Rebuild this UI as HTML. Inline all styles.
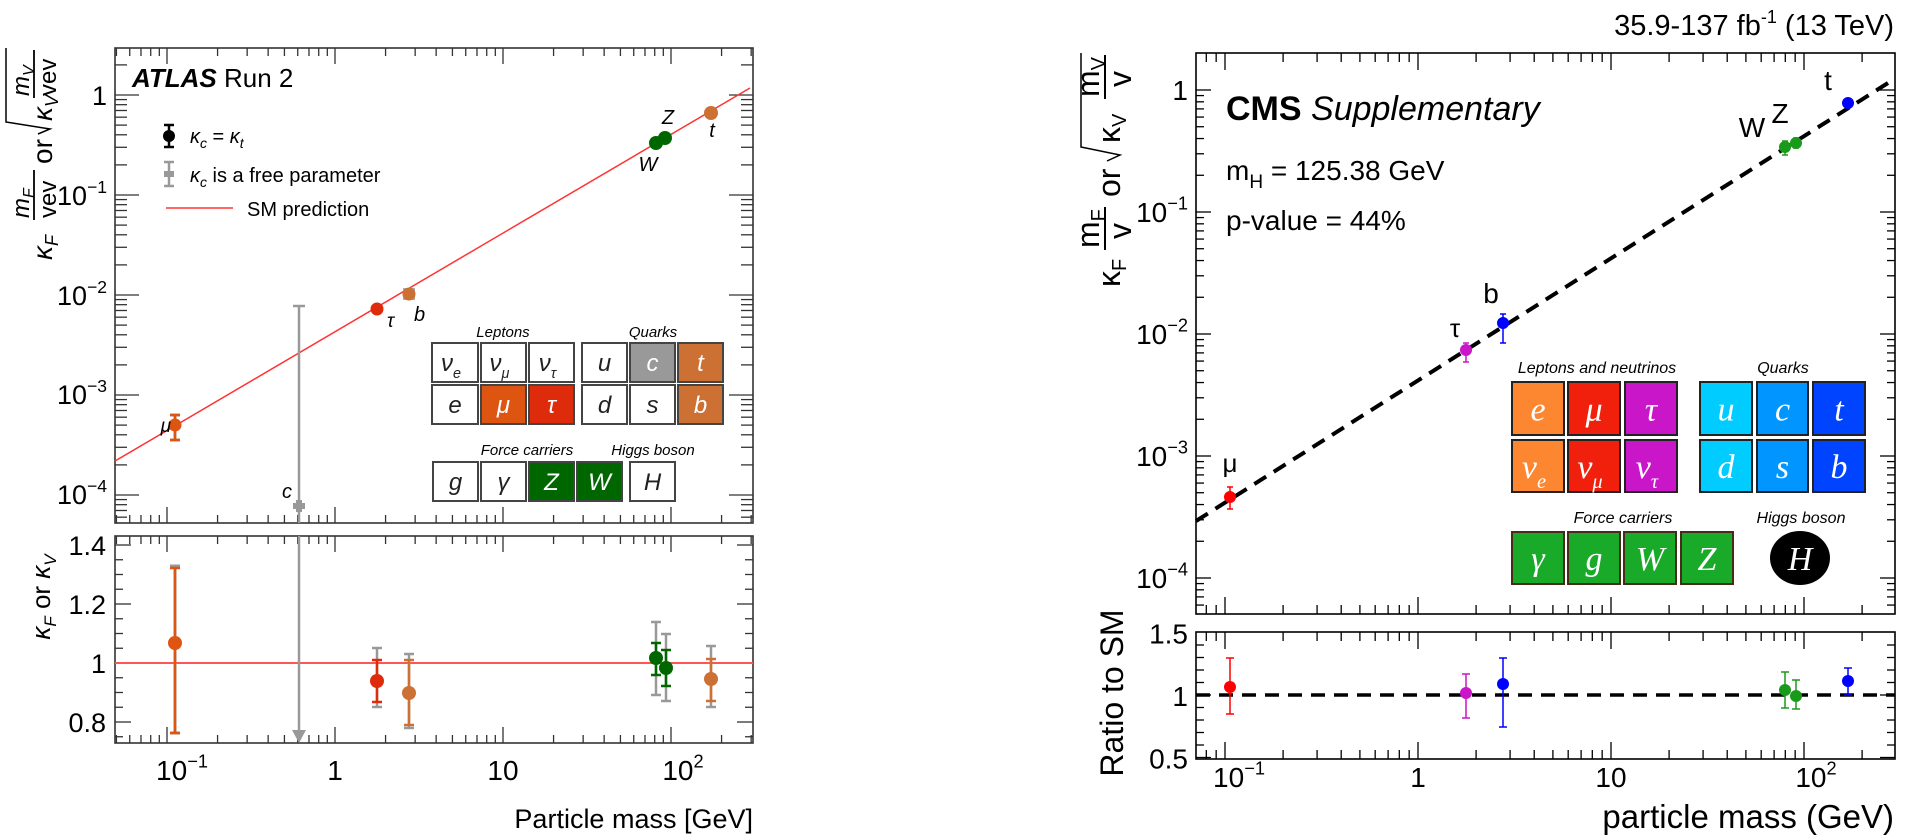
<!DOCTYPE html>
<html><head><meta charset="utf-8"><style>
html,body{margin:0;padding:0;background:#fff;}
svg{display:block;font-family:"Liberation Sans",sans-serif;}
</style></head><body>
<svg id="s" width="1905" height="840" viewBox="0 0 1905 840" xmlns="http://www.w3.org/2000/svg">
<rect width="1905" height="840" fill="#fff"/>
<g id="g"></g>

<text x="132" y="87" font-size="26"><tspan font-weight="bold" font-style="italic">ATLAS</tspan> Run 2</text>
<g>
<line x1="169" y1="125" x2="169" y2="147" stroke="#000" stroke-width="2.5"/><line x1="164" y1="125" x2="174" y2="125" stroke="#000" stroke-width="2.5"/><line x1="164" y1="147" x2="174" y2="147" stroke="#000" stroke-width="2.5"/><circle cx="169" cy="136" r="6" fill="#000"/>
<text x="190" y="143" font-size="20"><tspan font-style="italic">κ</tspan><tspan font-size="14" dy="5" font-style="italic">c</tspan><tspan dy="-5"> = </tspan><tspan font-style="italic">κ</tspan><tspan font-size="14" dy="5" font-style="italic">t</tspan></text>
<line x1="169" y1="162" x2="169" y2="186" stroke="#999" stroke-width="2.5"/><line x1="164" y1="162" x2="174" y2="162" stroke="#999" stroke-width="2.5"/><line x1="164" y1="186" x2="174" y2="186" stroke="#999" stroke-width="2.5"/><rect x="164" y="171" width="10" height="6" fill="#999"/>
<text x="190" y="182" font-size="20"><tspan font-style="italic">κ</tspan><tspan font-size="14" dy="5" font-style="italic">c</tspan><tspan dy="-5"> is a free parameter</tspan></text>
<line x1="166" y1="208" x2="233" y2="208" stroke="#f33" stroke-width="1.5"/>
<text x="247" y="216" font-size="20">SM prediction</text>
</g>
<text x="171" y="432" font-size="19" font-style="italic" text-anchor="end">μ</text>
<text x="387" y="327" font-size="19" font-style="italic">τ</text>
<text x="414" y="321" font-size="20" font-style="italic">b</text>
<text x="287" y="498" font-size="20" font-style="italic" text-anchor="middle">c</text>
<text x="668" y="124" font-size="20" font-style="italic" text-anchor="middle">Z</text>
<text x="648" y="171" font-size="20" font-style="italic" text-anchor="middle">W</text>
<text x="712" y="137" font-size="20" font-style="italic" text-anchor="middle">t</text>

<text x="503" y="337" font-size="15" font-style="italic" text-anchor="middle">Leptons</text>
<text x="653" y="337" font-size="15" font-style="italic" text-anchor="middle">Quarks</text>
<text x="527" y="455" font-size="15" font-style="italic" text-anchor="middle">Force carriers</text>
<text x="653" y="455" font-size="15" font-style="italic" text-anchor="middle">Higgs boson</text>

<g transform="translate(0,260) rotate(-90)" font-size="28">
<text x="0" y="52" font-style="italic">κ<tspan font-size="18" dy="6">F</tspan></text>
<text x="42" y="29" font-style="italic" font-size="24">m<tspan font-size="16" dy="5">F</tspan></text>
<line x1="40" y1="34" x2="90" y2="34" stroke="#000" stroke-width="1.8"/>
<text x="42" y="56" font-size="24">vev</text>
<text x="96" y="52">or</text>
<path d="M126,38 L131,50 L138,6 L212,6" fill="none" stroke="#000" stroke-width="1.5"/>
<text x="139" y="52" font-style="italic">κ<tspan font-size="18" dy="6">V</tspan></text>
<text x="164" y="29" font-style="italic" font-size="24">m<tspan font-size="16" dy="5">V</tspan></text>
<line x1="162" y1="34" x2="210" y2="34" stroke="#000" stroke-width="1.8"/>
<text x="164" y="56" font-size="24">vev</text>
</g>
<text transform="translate(50,597) rotate(-90)" font-size="26" text-anchor="middle"><tspan font-style="italic">κ</tspan><tspan font-size="17" dy="6" font-style="italic">F</tspan><tspan dy="-6"> or </tspan><tspan font-style="italic">κ</tspan><tspan font-size="17" dy="6" font-style="italic">V</tspan></text>
<text x="753" y="828" font-size="27" text-anchor="end">Particle mass [GeV]</text>

<text x="1894" y="35" font-size="29" text-anchor="end">35.9-137 fb<tspan font-size="18" dy="-12">-1</tspan><tspan dy="12"> (13 TeV)</tspan></text>
<text x="1226" y="120" font-size="34"><tspan font-weight="bold">CMS</tspan> <tspan font-style="italic">Supplementary</tspan></text>
<text x="1226" y="180" font-size="28">m<tspan font-size="19" dy="8">H</tspan><tspan dy="-8"> = 125.38 GeV</tspan></text>
<text x="1226" y="230" font-size="28">p-value = 44%</text>
<text x="1230" y="472" font-size="26" text-anchor="middle">μ</text>
<text x="1455" y="337" font-size="26" text-anchor="middle">τ</text>
<text x="1491" y="303" font-size="28" text-anchor="middle">b</text>
<text x="1752" y="137" font-size="28" text-anchor="middle">W</text>
<text x="1780" y="123" font-size="28" text-anchor="middle">Z</text>
<text x="1828" y="90" font-size="28" text-anchor="middle">t</text>
<text x="1597" y="373" font-size="16" font-style="italic" text-anchor="middle">Leptons and neutrinos</text>
<text x="1783" y="373" font-size="16" font-style="italic" text-anchor="middle">Quarks</text>
<text x="1623" y="523" font-size="16" font-style="italic" text-anchor="middle">Force carriers</text>
<text x="1801" y="523" font-size="16" font-style="italic" text-anchor="middle">Higgs boson</text>
<ellipse cx="1800" cy="558" rx="30" ry="27" fill="#000"/>
<text x="1800" y="570" font-size="34" font-family="Liberation Serif,serif" font-style="italic" fill="#fff" text-anchor="middle">H</text>

<g transform="translate(1103,283) rotate(-90)" font-size="32">
<text x="-4" y="17">κ<tspan font-size="20" dy="6">F</tspan></text>
<text x="35" y="-4">m<tspan font-size="20" dy="6">F</tspan></text>
<line x1="33" y1="2" x2="76" y2="2" stroke="#000" stroke-width="2"/>
<text x="44" y="28">v</text>
<text x="86" y="17">or</text>
<path d="M122,4 L128,17 L136,-22 L230,-22" fill="none" stroke="#000" stroke-width="1.5"/>
<text x="140" y="17">κ<tspan font-size="20" dy="6">V</tspan></text>
<text x="186" y="-4">m<tspan font-size="20" dy="6">V</tspan></text>
<line x1="184" y1="2" x2="228" y2="2" stroke="#000" stroke-width="2"/>
<text x="196" y="28">v</text>
</g>
<text transform="translate(1123,693) rotate(-90)" font-size="32" text-anchor="middle">Ratio to SM</text>
<text x="1894" y="828" font-size="33" text-anchor="end">particle mass (GeV)</text>
</svg>
<script>
(function(){
var NS="http://www.w3.org/2000/svg",g=document.getElementById("g");
function el(t,a,txt){var e=document.createElementNS(NS,t);for(var k in a)e.setAttribute(k,a[k]);if(txt!==undefined)e.textContent=txt;g.appendChild(e);return e;}
function L(x1,y1,x2,y2,c,w,extra){var a={x1:x1,y1:y1,x2:x2,y2:y2,stroke:c,"stroke-width":w};for(var k in extra||{})a[k]=extra[k];return el("line",a);}
function lg(v){return Math.log(v)/Math.LN10;}
var LX=function(m){return 335+168*lg(m);},LY=function(v){return 95-100*lg(v);},LR=function(v){return 663-(v-1)*295;};
var RX=function(m){return 1418+193*lg(m);},RY=function(v){return 90-122*lg(v);},RR=function(r){return 695-(r-1)*125;};
function xTicks(F,x0,x1,yt,yb,maj,min,c){for(var d=-2;d<=3;d++)for(var k=1;k<10;k++){var m=k*Math.pow(10,d),x=F(m);if(x<=x0+1||x>=x1-1)continue;var l=k==1?maj:min;L(x,yb,x,yb-l,c,1.3);L(x,yt,x,yt+l,c,1.3);}}
function yLogTicks(F,y0,y1,xl,xr,maj,min,c){for(var d=-5;d<=1;d++)for(var k=1;k<10;k++){var v=k*Math.pow(10,d),y=F(v);if(y<=y0+1||y>=y1-1)continue;var l=k==1?maj:min;L(xl,y,xl+l,y,c,1.3);L(xr,y,xr-l,y,c,1.3);}}
function yLinTicks(F,y0,y1,xl,xr,a,b,st,majEvery,maj,min,c){for(var i=0;a+i*st<=b+1e-9;i++){var v=a+i*st,y=F(v);if(y<=y0+1||y>=y1-1)continue;var isM=Math.abs(v/majEvery-Math.round(v/majEvery))<1e-6;var l=isM?maj:min;L(xl,y,xl+l,y,c,1.3);L(xr,y,xr-l,y,c,1.3);}}
var lc="#333";
el("rect",{x:115,y:48,width:638,height:475,fill:"none",stroke:lc,"stroke-width":1.6});
el("rect",{x:115,y:536,width:638,height:207,fill:"none",stroke:lc,"stroke-width":1.6});
xTicks(LX,115,753,48,523,16,8,lc);xTicks(LX,115,753,536,743,16,8,lc);
yLogTicks(LY,48,523,115,753,24,12,lc);
yLinTicks(LR,536,743,115,753,0.7,1.45,0.05,0.2,16,8,lc);
function sup(x,y,base,ex,size,anchor){var t=el("text",{x:x,y:y,"font-size":size,"text-anchor":anchor||"end"});var a=document.createElementNS(NS,"tspan");a.textContent=base;t.appendChild(a);var b=document.createElementNS(NS,"tspan");b.setAttribute("font-size",size*0.65);b.setAttribute("dy",-size*0.45);b.textContent=ex;t.appendChild(b);return t;}
el("text",{x:107,y:105,"font-size":27,"text-anchor":"end"},"1");
sup(107,205,"10","−1",27);sup(107,305,"10","−2",27);sup(107,404,"10","−3",27);sup(107,504,"10","−4",27);
[["1.4",1.4],["1.2",1.2],["1",1.0],["0.8",0.8]].forEach(function(p){el("text",{x:106,y:LR(p[1])+10,"font-size":27,"text-anchor":"end"},p[0]);});
sup(LX(0.1)+15,780,"10","−1",28,"middle");el("text",{x:LX(1),y:780,"font-size":28,"text-anchor":"middle"},"1");el("text",{x:LX(10),y:780,"font-size":28,"text-anchor":"middle"},"10");sup(LX(100)+12,780,"10","2",28,"middle");
L(115,461,750,88,"#f33",1.5);L(115,LR(1),753,LR(1),"#f55",2);
function cell(x,y,w,h,fill,txt,sub,fc,stroke,font,fsz){el("rect",{x:x,y:y,width:w,height:h,fill:fill,stroke:stroke,"stroke-width":2});var t=el("text",{x:x+w/2-(sub?4:0),y:y+h/2+fsz*0.35,"font-size":fsz,"font-style":"italic","text-anchor":"middle",fill:fc,"font-family":font});t.textContent=txt;if(sub){var s=document.createElementNS(NS,"tspan");s.setAttribute("font-size",fsz*0.6);s.setAttribute("dy",fsz*0.3);s.textContent=sub;t.appendChild(s);}}
var F1='"Liberation Sans",sans-serif',W="#fff",B="#222",S="#444";
cell(432,343,46,39,W,"ν","e",B,S,F1,24);cell(481,343,45,39,W,"ν","μ",B,S,F1,24);cell(529,343,45,39,W,"ν","τ",B,S,F1,24);
cell(582,343,45,39,W,"u","",B,S,F1,24);cell(630,343,45,39,"#999","c","",W,S,F1,24);cell(678,343,45,39,"#cc7033","t","",W,S,F1,24);
cell(432,385,46,39,W,"e","",B,S,F1,24);cell(481,385,45,39,"#dd5511","μ","",W,S,F1,24);cell(529,385,45,39,"#dd2b0b","τ","",W,S,F1,24);
cell(582,385,45,39,W,"d","",B,S,F1,24);cell(630,385,45,39,W,"s","",B,S,F1,24);cell(678,385,45,39,"#cc7033","b","",W,S,F1,24);
cell(433,462,45,39,W,"g","",B,S,F1,24);cell(481,462,45,39,W,"γ","",B,S,F1,24);cell(529,462,45,39,"#006600","Z","",W,S,F1,24);cell(577,462,45,39,"#006600","W","",W,S,F1,24);
cell(630,462,45,39,W,"H","",B,S,F1,24);
function eb(x,y,lo,hi,c,w,cap,r){L(x,lo,x,hi,c,w);if(cap){L(x-cap,lo,x+cap,lo,c,w);L(x-cap,hi,x+cap,hi,c,w);}if(r)el("circle",{cx:x,cy:y,r:r,fill:c});}
eb(175,425,415,440,"#999",3,5,0);eb(175,425,415,440,"#dd5511",2.5,5,6.5);
eb(377,309,306,313,"#999",3,0,6);eb(377,309,306,313,"#dd2b0b",2.5,0,6.5);
el("rect",{x:403,y:288,width:12,height:12,fill:"#aaa"});eb(409,294,290,298,"#cc7033",2.5,0,6.5);
eb(656,143,140,146,"#006600",2,0,7);eb(665,138,135,141,"#006600",2,0,7);
eb(711,113,110,116,"#cc7033",2,0,7);
L(299,306,299,523,"#999",2.5);L(293,306,305,306,"#999",2.5);el("rect",{x:293,y:503,width:12,height:6,fill:"#999"});el("rect",{x:296,y:500,width:6,height:12,fill:"#999"});
L(299,536,299,735,"#999",2.5);el("path",{d:"M292,730 L306,730 L299,743 Z",fill:"#999"});
eb(175,643,566,733,"#999",3,5,0);eb(175,643,568,733,"#dd5511",2.5,5,7);
eb(377,681,648,707,"#999",2.5,5,0);eb(377,681,660,702,"#dd2b0b",2.5,5,7);
eb(409,693,654,728,"#999",2.5,5,0);eb(409,693,660,725,"#cc7033",2.5,5,7);
eb(656,658,622,695,"#999",2.5,5,0);eb(656,658,643,675,"#006600",2.5,5,7);
eb(666,668,634,701,"#999",2.5,5,0);eb(666,668,650,686,"#006600",2.5,5,7);
eb(711,679,646,707,"#999",2.5,5,0);eb(711,679,659,701,"#cc7033",2.5,5,7);
var rc="#000";
el("rect",{x:1196,y:53,width:699,height:561,fill:"none",stroke:rc,"stroke-width":1.6});
el("rect",{x:1196,y:632,width:699,height:127,fill:"none",stroke:rc,"stroke-width":1.6});
xTicks(RX,1196,1895,53,614,17,9,rc);xTicks(RX,1196,1895,632,759,17,9,rc);
yLogTicks(RY,53,614,1196,1895,15,8,rc);
yLinTicks(RR,632,759,1196,1895,0.5,1.5,0.1,0.5,15,8,rc);
el("text",{x:1188,y:100,"font-size":28,"text-anchor":"end"},"1");
sup(1188,222,"10","−1",28);sup(1188,344,"10","−2",28);sup(1188,466,"10","−3",28);sup(1188,588,"10","−4",28);
[["1.5",1.5],["1",1],["0.5",0.5]].forEach(function(p){el("text",{x:1188,y:RR(p[1])+11,"font-size":28,"text-anchor":"end"},p[0]);});
sup(RX(0.1)+14,787,"10","−1",28,"middle");el("text",{x:RX(1),y:787,"font-size":28,"text-anchor":"middle"},"1");el("text",{x:RX(10),y:787,"font-size":28,"text-anchor":"middle"},"10");sup(RX(100)+12,787,"10","2",28,"middle");
L(1196,521,1888,83,"#000",4,{"stroke-dasharray":"14,9"});
L(1196,695,1895,695,"#000",3.5,{"stroke-dasharray":"14,9"});
var F2='"Liberation Serif",serif',BR="#222",GB="#4a2a1a";
cell(1512,382,52,53,"#fd8630","e","",W,BR,F2,34);cell(1568,382,52,53,"#f0200c","μ","",W,BR,F2,34);cell(1625,382,52,53,"#c916c9","τ","",W,BR,F2,34);
cell(1700,382,52,53,"#00ccff","u","",W,BR,F2,34);cell(1757,382,51,53,"#0095ff","c","",W,BR,F2,34);cell(1813,382,52,53,"#0044ff","t","",W,BR,F2,34);
cell(1512,440,52,52,"#fd8630","ν","e",W,BR,F2,34);cell(1568,440,52,52,"#f0200c","ν","μ",W,BR,F2,34);cell(1625,440,52,52,"#c916c9","ν","τ",W,BR,F2,34);
cell(1700,440,52,52,"#00ccff","d","",W,BR,F2,34);cell(1757,440,51,52,"#0095ff","s","",W,BR,F2,34);cell(1813,440,52,52,"#0044ff","b","",W,BR,F2,34);
cell(1512,532,52,52,"#1aaa2a","γ","",W,GB,F2,34);cell(1568,532,52,52,"#1aaa2a","g","",W,GB,F2,34);cell(1624,532,52,52,"#1aaa2a","W","",W,GB,F2,34);cell(1681,532,52,52,"#1aaa2a","Z","",W,GB,F2,34);
eb(1230,497,487,509,"#f00",1.5,3,6);
eb(1466,350,343,362,"#c916c9",1.5,3,6);
eb(1503,323,314,343,"#00f",1.5,3,6);
eb(1785,147,141,155,"#1a9a1a",1.5,3,6);eb(1796,143,138,148,"#1a9a1a",1.5,3,6);
eb(1848,103,100,106,"#00f",1.5,0,6);
eb(1230,687,658,714,"#f00",1.5,4,6);
eb(1466,693,674,718,"#c916c9",1.5,4,6);
eb(1503,684,658,727,"#00f",1.5,4,6);
eb(1785,690,672,708,"#1a9a1a",1.5,4,6);
eb(1796,696,680,709,"#1a9a1a",1.5,4,6);
eb(1848,681,668,695,"#00f",1.5,4,6);
})();
</script>
</body></html>
